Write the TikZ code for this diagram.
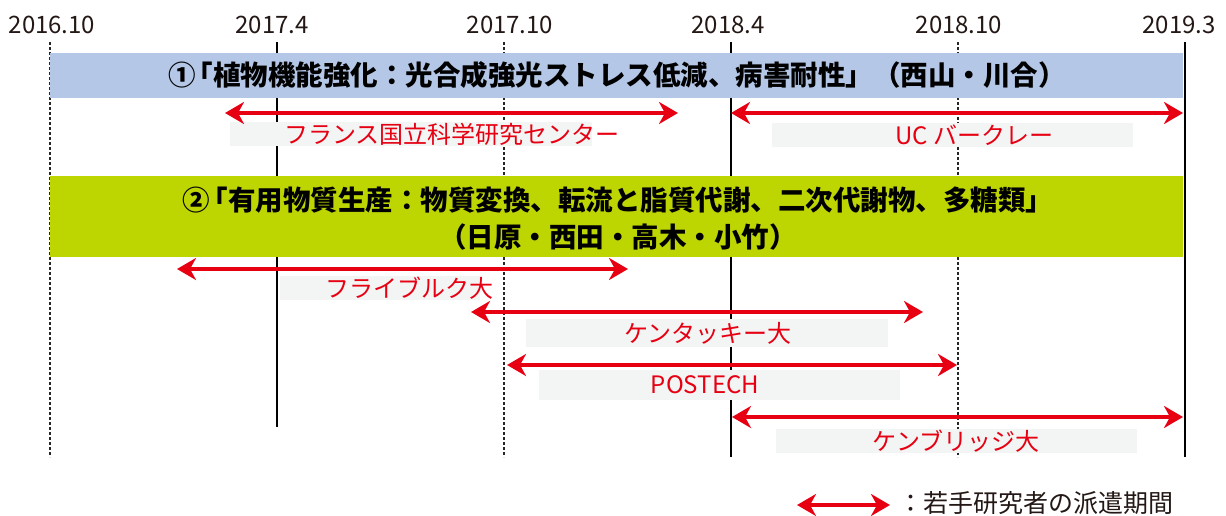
\documentclass[tikz,border=0pt]{standalone}
\usepackage{fontspec}
\setmainfont{Noto Sans CJK JP}
\usetikzlibrary{arrows.meta}
\definecolor{redA}{HTML}{E60012}
\definecolor{blueA}{HTML}{B4C7E7}
\definecolor{greenA}{HTML}{BDD500}
\definecolor{grayA}{HTML}{F3F5F4}
\definecolor{textA}{HTML}{231815}
\begin{document}
\begin{tikzpicture}[x=1pt,y=-1pt,
  vsolid/.style={line width=2pt,black},
  vdot/.style={line width=2.2pt,black!85,dash pattern=on 3pt off 2pt},
  period/.style={draw=redA,line width=3.2pt,
    {Stealth[length=19pt,width=22pt,inset=6pt]}-{Stealth[length=19pt,width=22pt,inset=6pt]}},
  datelbl/.style={font=\fontsize{24}{28}\selectfont,text=textA,inner sep=0pt},
  band/.style={draw=none,inner sep=0pt,anchor=north west},
  labbox/.style={fill=grayA,draw=none,inner sep=0pt,anchor=north west},
  labtext/.style={text=redA,font=\fontsize{24}{28}\selectfont,inner sep=0pt},
  titletext/.style={text=black,font=\bfseries\fontsize{27.5}{32}\selectfont,inner sep=0pt},
  legendtext/.style={text=textA,font=\fontsize{25}{28}\selectfont,inner sep=0pt,anchor=west}]
\useasboundingbox (0,0) rectangle (1226,515);

% time axis lines
\coordinate (t1) at (50,42);   \coordinate (e1) at (50,457);
\coordinate (t2) at (277,42);  \coordinate (e2) at (277,427);
\coordinate (t3) at (504,42);  \coordinate (e3) at (504,457);
\coordinate (t4) at (731,42);  \coordinate (e4) at (731,457);
\coordinate (t5) at (958,42);  \coordinate (e5) at (958,457);
\coordinate (t6) at (1185,42); \coordinate (e6) at (1185,457);
\draw[vdot] (t1) -- (e1);
\draw[vsolid] (t2) -- (e2);
\draw[vdot] (t3) -- (e3);
\draw[vsolid] (t4) -- (e4);
\draw[vdot] (t5) -- (e5);
\draw[vsolid] (t6) -- (e6);

% date labels
\node[datelbl] (d1) at (52,25) {2016.10};
\node[datelbl] (d2) at (272,25) {2017.4};
\node[datelbl] (d3) at (510,25) {2017.10};
\node[datelbl] (d4) at (728,25) {2018.4};
\node[datelbl] (d5) at (959,25) {2018.10};
\node[datelbl] (d6) at (1179,25) {2019.3};

% bands
\node[band,fill=blueA,minimum width=1133pt,minimum height=45pt] (band1) at (50,53) {};
\node[band,fill=greenA,minimum width=1133pt,minimum height=81pt] (band2) at (50,176) {};
\node[titletext] (title1) at (617,75) {①\kern-0.35em「植物機能強化：光合成強光ストレス低減、病害耐性」（西山・川合）};
\node[titletext] (title2a) at (618,200) {②\kern-0.35em「有用物質生産：物質変換、転流と脂質代謝、二次代謝物、多糖類」};
\node[titletext] (title2b) at (618,237) {（日原・西田・高木・小竹）};

% grey label boxes
\node[labbox,minimum width=362pt,minimum height=24pt] (bx1) at (230,122) {};
\node[labbox,minimum width=361pt,minimum height=24pt] (bx2) at (772,123) {};
\node[labbox,minimum width=200pt,minimum height=24pt] (bx3) at (280,276) {};
\node[labbox,minimum width=362pt,minimum height=28pt] (bx4) at (526,319) {};
\node[labbox,minimum width=361pt,minimum height=30pt] (bx5) at (539,370) {};
\node[labbox,minimum width=361pt,minimum height=24pt] (bx6) at (776,429) {};

\node[labtext] (lb1) at (452,134) {フランス国立科学研究センター};
\node[labtext] (lb2) at (974,135) {UC バークレー};
\node[labtext] (lb3) at (409,288) {フライブルク大};
\node[labtext] (lb4) at (708,333) {ケンタッキー大};
\node[labtext] (lb5) at (705,385) {POSTECH};
\node[labtext] (lb6) at (956,441) {ケンブリッジ大};

% dispatch periods
\coordinate (p1l) at (225,113);  \coordinate (p1r) at (678,113);
\coordinate (p2l) at (731,113);  \coordinate (p2r) at (1183,113);
\coordinate (p3l) at (177,269);  \coordinate (p3r) at (628,269);
\coordinate (p4l) at (471,312);  \coordinate (p4r) at (923,312);
\coordinate (p5l) at (507,365);  \coordinate (p5r) at (957,365);
\coordinate (p6l) at (732,417);  \coordinate (p6r) at (1183,417);
\draw[period] (p1l) -- (p1r);
\draw[period] (p2l) -- (p2r);
\draw[period] (p3l) -- (p3r);
\draw[period] (p4l) -- (p4r);
\draw[period] (p5l) -- (p5r);
\draw[period] (p6l) -- (p6r);

% legend
\coordinate (gl) at (797,505);  \coordinate (gr) at (890,505);
\draw[period] (gl) -- (gr);
\node[legendtext] (legend) at (898,503) {：若手研究者の派遣期間};
\end{tikzpicture}
\end{document}
